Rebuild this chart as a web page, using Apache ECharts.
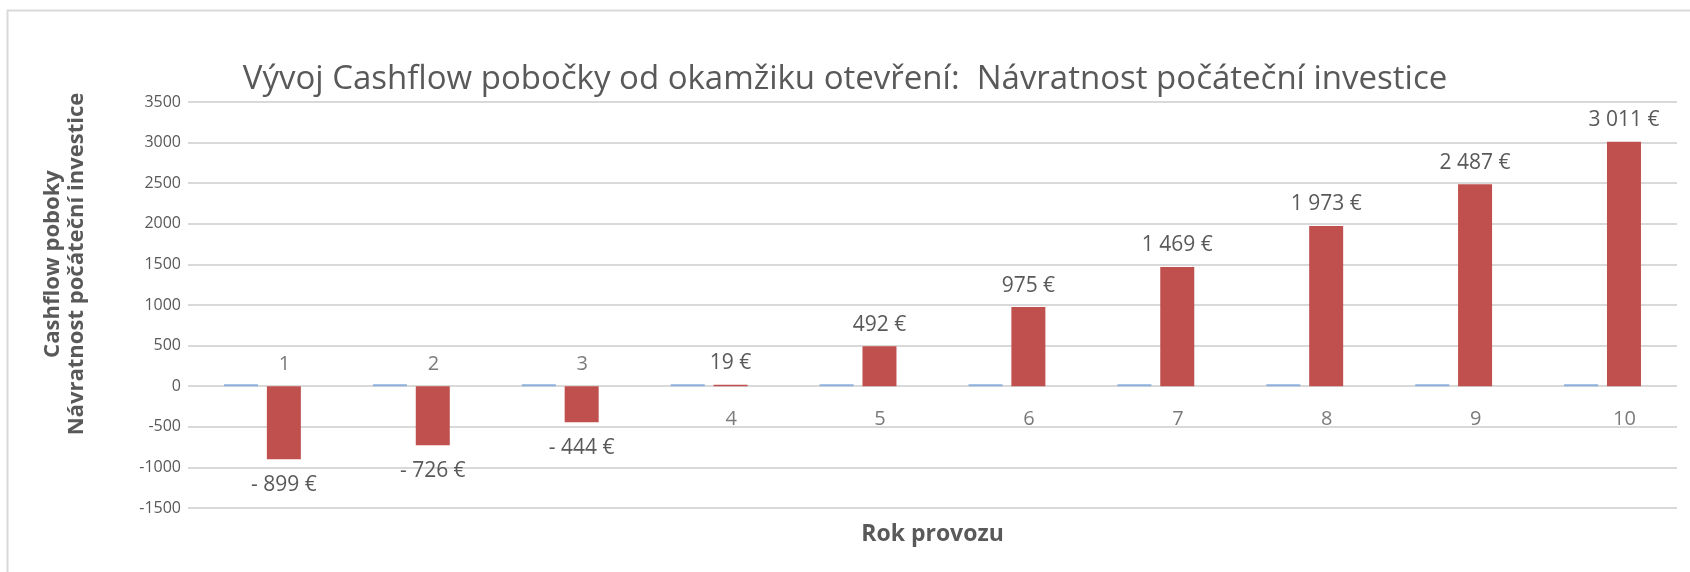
<!DOCTYPE html>
<html>
<head>
<meta charset="utf-8">
<title>Vývoj Cashflow pobočky</title>
<script src="https://cdn.jsdelivr.net/npm/echarts@6/dist/echarts.min.js"></script>
<style>
  html, body { margin: 0; padding: 0; background: #fff; }
  #main { width: 1690px; height: 572px; }
</style>
</head>
<body>
<div id="main"></div>
<script>
// data
const years = ['1', '2', '3', '4', '5', '6', '7', '8', '9', '10'];
const yearSeries = [1, 2, 3, 4, 5, 6, 7, 8, 9, 10];   // blue series (tiny at this scale)
const cashflow = [-899, -726, -444, 19, 492, 975, 1469, 1973, 2487, 3011];
const yTicks = { min: -1500, max: 3500, step: 500 };

const TEXT = '#595959';
const FONT = '"Open Sans", sans-serif';

// "- 899 €", "1 469 €"
function euro(v) {
  const s = String(Math.abs(v)).replace(/\B(?=(\d{3})+(?!\d))/g, '\u00a0');
  return (v < 0 ? '-\u00a0' : '') + s + '\u00a0€';
}

const chart = echarts.init(document.getElementById('main'));

const option = {
  animation: false,
  backgroundColor: '#fff',
  title: {
    text: 'Vývoj Cashflow pobočky od okamžiku otevření:  Návratnost počáteční investice',
    left: 'center',
    top: 58,
    textStyle: { fontFamily: FONT, fontSize: 33, fontWeight: 'normal', color: TEXT }
  },
  graphic: [
    {
      type: 'rect',
      left: 5, top: 8,
      shape: { width: 1700, height: 600 },
      style: { fill: 'none', stroke: '#d9d9d9', lineWidth: 2 },
      silent: true
    },
    {
      // y axis title, two lines, reads bottom to top
      type: 'text',
      x: 65, y: 264,
      rotation: Math.PI / 2,
      scaleX: 1.05,
      style: {
        text: 'Cashflow poboky\nNávratnost počáteční investice',
        fontFamily: FONT, fontSize: 21, fontWeight: 'bold',
        fill: TEXT, align: 'center', verticalAlign: 'middle', lineHeight: 24
      }
    }
  ],
  grid: { left: 188, right: 13, top: 102, bottom: 64 },
  xAxis: {
    type: 'category',
    data: years,
    name: 'Rok provozu',
    nameLocation: 'middle',
    nameGap: 15,
    nameTextStyle: { fontFamily: FONT, fontSize: 23, fontWeight: 'bold', color: TEXT },
    axisLine: { show: false, onZero: false },
    axisTick: { show: false },
    axisLabel: { show: false }
  },
  yAxis: {
    type: 'value',
    min: yTicks.min,
    max: yTicks.max,
    interval: yTicks.step,
    axisLine: { show: false },
    axisTick: { show: false },
    axisLabel: {
      fontFamily: FONT, fontSize: 16, color: TEXT, margin: 7,
      formatter: v => String(v)
    },
    splitLine: { lineStyle: { color: '#d9d9d9', width: 2 } }
  },
  series: [
    {
      name: 'Rok',
      type: 'bar',
      data: yearSeries,
      barWidth: 34,
      barGap: '26%',
      barMinHeight: 2,
      itemStyle: { color: '#8db0dc' }
    },
    {
      name: 'Cashflow',
      type: 'bar',
      // negative bars carry their value label below the bar
      data: cashflow.map(v => ({
        value: v,
        label: v < 0 ? { position: 'bottom', distance: 15 } : { position: 'top', distance: 11 }
      })),
      barWidth: 34,
      itemStyle: { color: '#c0504d' },
      label: {
        show: true,
        fontFamily: FONT, fontSize: 21, color: TEXT,
        formatter: p => euro(p.value)
      }
    },
    {
      // year labels sit on the zero line, on the opposite side of the red bar
      name: 'labels',
      type: 'scatter',
      symbolSize: 0,
      silent: true,
      data: years.map((y, i) => ({
        value: 0,
        label: cashflow[i] < 0
          ? { position: 'top', distance: 12 }
          : { position: 'bottom', distance: 23 }
      })),
      label: {
        show: true,
        offset: [22, 0],
        fontFamily: FONT, fontSize: 20, color: TEXT,
        formatter: p => years[p.dataIndex]
      }
    }
  ]
};

chart.setOption(option);
</script>
</body>
</html>
